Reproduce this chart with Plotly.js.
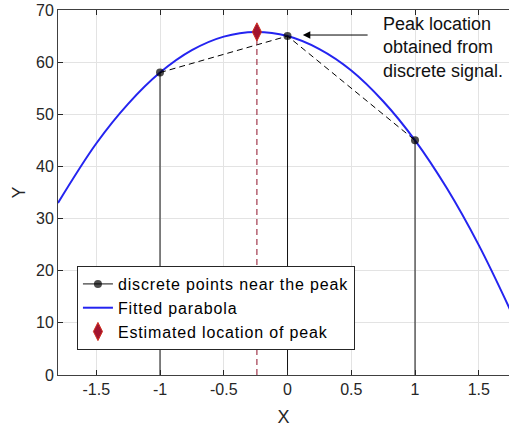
<!DOCTYPE html>
<html>
<head>
<meta charset="utf-8">
<script src="https://cdn.plot.ly/plotly-3.0.1.min.js"></script>
<style>
html,body{margin:0;padding:0;background:#fff}
#chart{width:509px;height:427px}
.legendtext{letter-spacing:0.85px}
</style>
</head>
<body>
<div id="chart"></div>
<script>
// ---- data ----
const discreteX = [-1, 0, 1];
const discreteY = [58, 65, 45];
const curveX = [-1.8, -1.5, -1.25, -1, -0.75, -0.5, -0.25, 0, 0.25, 0.5, 0.75, 1, 1.25, 1.5, 1.75];
const curveY = [33.0, 44.4, 52.0, 58.0, 62.3, 64.9, 65.8, 65.0, 62.5, 58.4, 52.5, 45.0, 35.8, 24.9, 12.3];
const peakX = [-0.24];
const peakY = [65.8];
const xTickVals = [-1.5, -1, -0.5, 0, 0.5, 1, 1.5];
const xTickText = ['-1.5', '-1', '-0.5', '0', '0.5', '1', '1.5'];
const yTickVals = [0, 10, 20, 30, 40, 50, 60, 70];
const noteLines = ['Peak location', 'obtained from', 'discrete signal.'];
const noteY = [67.3, 62.9, 58.3];
const legendNames = ['discrete points near the peak', 'Fitted parabola', 'Estimated location of peak'];

// stems built from the discrete points
const stemX = [], stemY = [], stemSize = [];
discreteX.forEach((x, i) => {
  stemX.push(x, x, null);
  stemY.push(0, discreteY[i], null);
  stemSize.push(0, 8, 16);
});

const FONT = 'Liberation Sans, Arial, Helvetica, sans-serif';

const traces = [
  {
    x: curveX, y: curveY, mode: 'lines', name: legendNames[1], legendrank: 2,
    line: {color: '#2424f0', width: 2, shape: 'spline', smoothing: 1}
  },
  {
    x: discreteX, y: discreteY, mode: 'lines', showlegend: false, hoverinfo: 'skip',
    line: {color: '#000', width: 1, dash: '6px,4px'}
  },
  {
    x: [peakX[0], peakX[0]], y: [0, peakY[0]], mode: 'lines', showlegend: false, hoverinfo: 'skip',
    line: {color: '#8f1028', width: 1, dash: '6px,4px'}
  },
  {
    x: stemX, y: stemY, mode: 'lines+markers', name: legendNames[0], legendrank: 1,
    line: {color: '#111', width: 1},
    marker: {color: '#000', size: stemSize, line: {width: 0}},
    connectgaps: false
  },
  {
    x: peakX, y: peakY, mode: 'markers', name: legendNames[2], legendrank: 3,
    marker: {symbol: 'diamond-tall', size: 13, color: '#A2142F', line: {color: '#D03020', width: 1}}
  }
];

const annotations = noteLines.map((t, i) => ({
  x: 0.737, y: noteY[i], xref: 'x', yref: 'y', text: t, showarrow: false,
  xanchor: 'left', yanchor: 'middle', font: {family: FONT, size: 18, color: '#111'}
}));
annotations.push({
  x: 0.12, y: 65.2, ax: 0.64, ay: 65.2, xref: 'x', yref: 'y', axref: 'x', ayref: 'y',
  text: '', showarrow: true, arrowhead: 2, arrowsize: 1.5, arrowwidth: 1, arrowcolor: '#000', standoff: 0
});

const layout = {
  width: 509, height: 427,
  margin: {l: 58, r: 0, t: 10, b: 52},
  paper_bgcolor: '#fff', plot_bgcolor: '#fff',
  font: {family: FONT, size: 16, color: '#262626'},
  showlegend: true,
  legend: {
    x: 0.042, y: 0.2986, xanchor: 'left', yanchor: 'top',
    bgcolor: '#fff', bordercolor: '#262626', borderwidth: 1,
    font: {family: FONT, size: 16, color: '#000'},
    tracegroupgap: 0
  },
  xaxis: {
    range: [-1.8, 1.737], tickvals: xTickVals, ticktext: xTickText,
    ticks: 'inside', ticklen: 5, tickcolor: '#262626',
    showgrid: true, gridcolor: '#e3e3e3', zeroline: false,
    showline: true, linecolor: '#404040', linewidth: 1, mirror: 'ticks',
    tickfont: {family: FONT, size: 16, color: '#262626'},
    title: {text: 'X', font: {family: FONT, size: 18, color: '#262626'}, standoff: 16}
  },
  yaxis: {
    range: [0, 70], tickvals: yTickVals,
    ticks: 'inside', ticklen: 5, tickcolor: '#262626',
    showgrid: true, gridcolor: '#e3e3e3', zeroline: false,
    showline: true, linecolor: '#404040', linewidth: 1,
    tickfont: {family: FONT, size: 16, color: '#262626'},
    title: {text: 'Y', font: {family: FONT, size: 18, color: '#262626'}, standoff: 5}
  },
  annotations: annotations
};

Plotly.newPlot('chart', traces, layout, {displayModeBar: false, staticPlot: true});
</script>
</body>
</html>
